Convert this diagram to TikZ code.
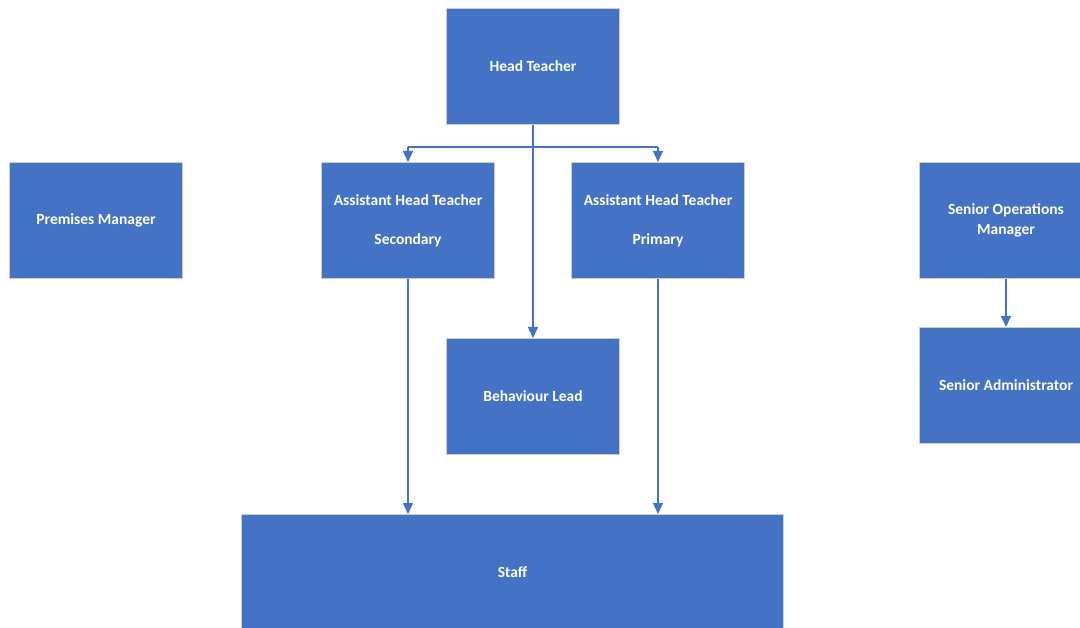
\documentclass[tikz,border=0pt]{standalone}
\usepackage{fontspec}
\setmainfont{Carlito}
\usetikzlibrary{arrows.meta}
\definecolor{boxblue}{HTML}{4472C4}
\definecolor{edgegrey}{HTML}{C9CED8}
\begin{document}
\begin{tikzpicture}[x=1pt,y=-1pt,
  box/.style={draw=edgegrey, line width=1pt, fill=boxblue, text=white,
    font=\fontsize{15.5}{19.5}\selectfont\bfseries, align=center, inner sep=0pt,
    minimum width=173pt, minimum height=116pt, anchor=north west},
  conn/.style={draw=boxblue, line width=1.4pt, -{Triangle[width=10pt,length=11pt]}},
  plain/.style={draw=boxblue, line width=1.4pt}]
\useasboundingbox (0,0) rectangle (1080,628);
\node[box] (ht) at (446,8) {Head Teacher};
\node[box] (pm) at (9,162) {Premises Manager};
\node[box] (aths) at (321,162) {Assistant Head Teacher\\[19.5pt]Secondary};
\node[box] (athp) at (571,162) {Assistant Head Teacher\\[19.5pt]Primary};
\node[box] (som) at (919,162) {Senior Operations\\Manager};
\node[box] (sa) at (919,327) {Senior Administrator};
\node[box] (bl) at (446,338) {Behaviour Lead};
\node[box, minimum width=542pt] (staff) at (241,514) {Staff};
\coordinate (j) at (532,147);
\draw[conn] (ht.south) -- (bl.north);
\draw[plain] (aths.north|-j) -- (athp.north|-j);
\draw[conn] (aths.north|-j) -- (aths.north);
\draw[conn] (athp.north|-j) -- (athp.north);
\draw[conn] (aths.south) -- (aths.south|-staff.north);
\draw[conn] (athp.south) -- (athp.south|-staff.north);
\draw[conn] (som.south) -- (sa.north);
\end{tikzpicture}
\end{document}
